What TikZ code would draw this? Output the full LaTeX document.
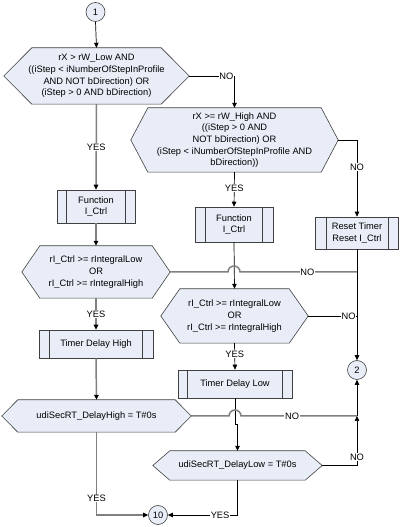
\documentclass[tikz,border=0pt]{standalone}
\usepackage{fontspec}
\setmainfont{Liberation Sans}
\usetikzlibrary{arrows.meta,calc,backgrounds}
\definecolor{shapefill}{HTML}{E8EDF7}
\definecolor{shapeline}{HTML}{404040}
\definecolor{conngray}{HTML}{808080}
\newcommand\mkhex[2]{\begin{pgfonlayer}{background}\filldraw[shapeborder] (#1.west) -- ([xshift=#2]#1.north west) -- ([xshift=-#2]#1.north east) -- (#1.east) -- ([xshift=-#2]#1.south east) -- ([xshift=#2]#1.south west) -- cycle;\end{pgfonlayer}}
\newcommand\mkbars[2]{\draw[shapeborder] ([xshift=#2]#1.north west) -- ([xshift=#2]#1.south west); \draw[shapeborder] ([xshift=-#2]#1.north east) -- ([xshift=-#2]#1.south east);}
\begin{document}
\begin{tikzpicture}[x=1pt,y=1pt,
  txt/.style={font=\fontsize{9.3}{11.7}\selectfont, align=center, inner sep=0pt},
  shapeborder/.style={draw=shapeline, fill=shapefill, line width=0.6pt},
  hexnode/.style={txt, minimum width=#1},
  procbox/.style={txt, shapeborder, minimum width=#1},
  endpt/.style={txt, shapeborder, circle, minimum size=19pt},
  lbl/.style={txt, fill=white, inner sep=0.6pt},
  tipb/.style={-{Triangle[length=5pt,width=4.5pt,color=black]}},
  conn/.style={draw=black, line width=0.7pt},
  gconn/.style={draw=conngray, line width=1.5pt}]
\begin{pgfonlayer}{background}
\fill[white] (0,0) rectangle (402,527);
\end{pgfonlayer}
\useasboundingbox (0,0) rectangle (402,527);
% nodes
\node[endpt] (c1) at (95.5,515) {1};
\node[hexnode=185, minimum height=56] (d1) at (96.5,451) {rX > rW\_Low AND\\((iStep < iNumberOfStepInProfile\\AND NOT bDirection) OR\\(iStep > 0 AND bDirection)};
\mkhex{d1}{28}
\node[hexnode=207, minimum height=64] (d2) at (234.5,387) {rX >= rW\_High AND\\((iStep > 0 AND\\NOT bDirection) OR\\(iStep < iNumberOfStepInProfile AND\\bDirection))};
\mkhex{d2}{17}
\node[procbox=78, minimum height=33] (f1) at (96,320.5) {Function\\I\_Ctrl};
\mkbars{f1}{10}
\node[procbox=78, minimum height=35] (f2) at (234,302.5) {Function\\I\_Ctrl};
\mkbars{f2}{11}
\node[procbox=83, minimum height=32] (r1) at (357,294) {Reset Timer\\Reset I\_Ctrl};
\mkbars{r1}{11}
\node[hexnode=148, minimum height=52] (d3) at (96,255) {rI\_Ctrl >= rIntegralLow\\OR\\rI\_Ctrl >= rIntegralHigh};
\mkhex{d3}{18}
\node[hexnode=147, minimum height=54] (d4) at (234.5,211) {rI\_Ctrl >= rIntegralLow\\OR\\rI\_Ctrl >= rIntegralHigh};
\mkhex{d4}{19}
\node[procbox=114, minimum height=28] (t1) at (96,183) {Timer Delay High};
\mkbars{t1}{11}
\node[procbox=114, minimum height=28] (t2) at (235,143) {Timer Delay Low};
\mkbars{t2}{10}
\node[endpt] (c2) at (357,157) {2};
\node[hexnode=189, minimum height=32] (d5) at (96.5,111) {udiSecRT\_DelayHigh = T\#0s};
\mkhex{d5}{16}
\node[hexnode=169, minimum height=29] (d6) at (237.5,61.5) {udiSecRT\_DelayLow = T\#0s};
\mkhex{d6}{17}
\node[endpt] (c10) at (158,12) {10};
\coordinate (jog) at (235,103);
\coordinate (j5) at (357,111);
% connectors
\draw[conn,tipb] (c1.south) -- (d1.north);
\draw[conn,tipb] (d1.east) -| node[lbl,pos=0.41]{NO} (d2.north);
\draw[conn,tipb] (d2.east) -| node[lbl,pos=0.675]{NO} (r1.north);
\draw[gconn,tipb] (d1.south) -- node[lbl]{YES} (f1.north);
\draw[gconn,tipb] (f1.south) -- (d3.north);
\draw[conn,tipb] (d2.south) -- node[lbl,pos=0.46]{YES} (f2.north);
\draw[conn,tipb] (f2.south) -- (d4.north);
\draw[gconn] (d3.east) -- ($(f2.south |- d3.east)+(-6,0)$) arc[start angle=180,end angle=0,radius=6] -- node[lbl,pos=0.575]{NO} (r1.south |- d3.east);
\draw[conn] (d4.east) -- node[lbl,pos=0.83]{NO} (r1.south |- d4.east);
\draw[conn,tipb] (r1.south) -- (c2.north);
\draw[gconn,tipb] (d3.south) -- node[lbl]{YES} (t1.north);
\draw[gconn,tipb] (t1.south) -- (d5.north);
\draw[conn,tipb] (d4.south) -- node[lbl,pos=0.41]{YES} (t2.north);
\draw[conn,tipb] (t2.south) -- (jog) -| (d6.north);
\draw[gconn] (d5.east) -- ($(t2.south |- d5.east)+(-6,0)$) arc[start angle=180,end angle=0,radius=6] -- node[lbl,pos=0.44]{NO} (j5);
\draw[conn,tipb] (d6.east) -| node[lbl,pos=0.586]{NO} (j5);
\draw[conn,tipb] (j5) -- (c2.south);
\draw[gconn,tipb] (d5.south) |- node[lbl,pos=0.4]{YES} (c10.west);
\draw[conn,tipb] (d6.south) |- node[lbl,pos=0.625]{YES} (c10.east);
\end{tikzpicture}
\end{document}
